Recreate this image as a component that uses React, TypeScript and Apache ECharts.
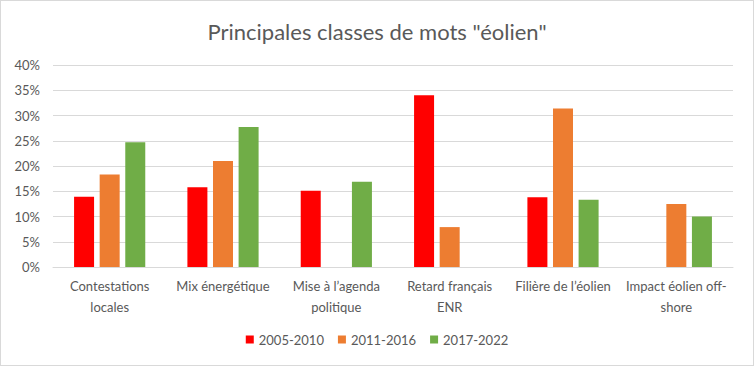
import React, { useEffect, useRef } from "react";
import * as echarts from "echarts";

const categories = [
  "Contestations\nlocales",
  "Mix énergétique",
  "Mise à l’agenda\npolitique",
  "Retard français\nENR",
  "Filière de l’éolien",
  "Impact éolien off-\nshore",
];
const seriesNames = ["2005-2010", "2011-2016", "2017-2022"];
const s2005 = [0.139, 0.158, 0.151, 0.34, 0.138, null];
const s2011 = [0.183, 0.21, null, 0.079, 0.314, 0.125];
const s2017 = [0.247, 0.277, 0.169, null, 0.133, 0.1];
const colors = ["#ff0000", "#ed7d31", "#70ad47"];
const yTicks = [0, 0.05, 0.1, 0.15, 0.2, 0.25, 0.3, 0.35, 0.4];

const FONT = "Lato, 'Open Sans', sans-serif";

export default function App() {
  const ref = useRef<HTMLDivElement>(null);
  useEffect(() => {
    if (!ref.current) return;
    const chart = echarts.init(ref.current, undefined, { renderer: "svg" });
    const data = [s2005, s2011, s2017];
    chart.setOption({
      animation: false,
      backgroundColor: "#ffffff",
      title: {
        text: 'Principales classes de mots "éolien"',
        left: "center",
        top: 14,
        textStyle: {
          fontFamily: FONT,
          fontSize: 22,
          fontWeight: "normal",
          color: "#595959",
        },
      },
      legend: {
        bottom: 14,
        left: "center",
        itemWidth: 8,
        itemHeight: 8,
        itemGap: 14,
        icon: "rect",
        textStyle: { fontFamily: FONT, fontSize: 13, color: "#595959" },
        data: seriesNames,
      },
      grid: { left: 52, right: 20, top: 64, bottom: 98 },
      xAxis: {
        type: "category",
        data: categories,
        axisLine: { show: true, lineStyle: { color: "#d9d9d9" } },
        axisTick: { show: false },
        axisLabel: {
          fontFamily: FONT,
          fontSize: 13,
          color: "#595959",
          lineHeight: 21,
          margin: 8,
          interval: 0,
        },
      },
      yAxis: {
        type: "value",
        min: yTicks[0],
        max: yTicks[yTicks.length - 1],
        interval: 0.05,
        axisLine: { show: false },
        axisTick: { show: false },
        splitLine: { lineStyle: { color: "#d9d9d9", width: 1 } },
        axisLabel: {
          fontFamily: FONT,
          fontSize: 13,
          color: "#595959",
          margin: 13,
          formatter: (v: number) => `${Math.round(v * 100)}%`,
        },
      },
      series: seriesNames.map((name, i) => ({
        name,
        type: "bar",
        data: data[i],
        barWidth: 20,
        barGap: "28%",
        itemStyle: { color: colors[i] },
      })),
    });
    return () => chart.dispose();
  }, []);
  return (
    <div
      style={{
        position: "fixed",
        left: 0,
        top: 0,
        width: 754,
        height: 366,
        boxSizing: "border-box",
        border: "1px solid #d9d9d9",
        background: "#fff",
      }}
    >
      <div ref={ref} style={{ width: 752, height: 364 }} />
    </div>
  );
}
